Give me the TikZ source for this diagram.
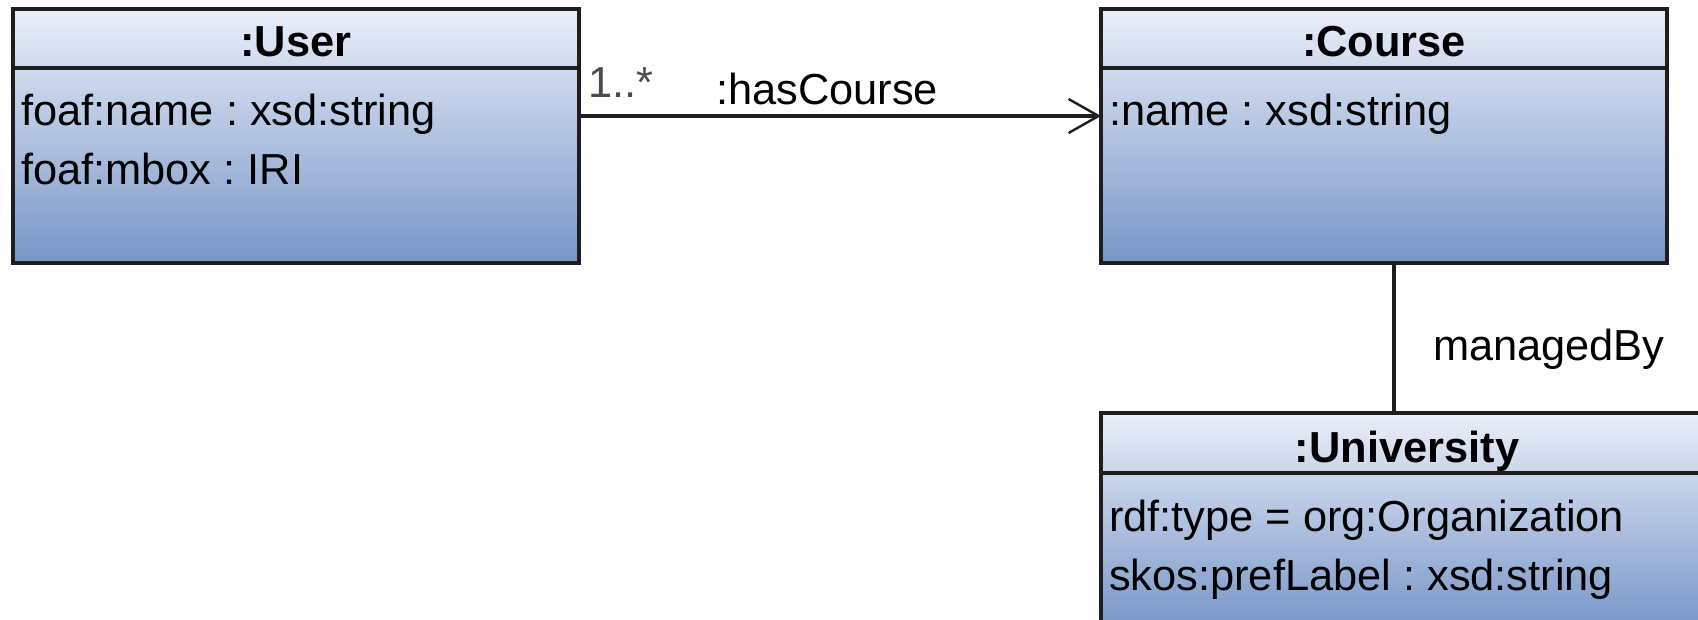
\documentclass[tikz,border=0pt]{standalone}
\usepackage{fontspec}
\setmainfont{Liberation Sans}
\usetikzlibrary{arrows.meta}
\definecolor{topc}{RGB}{234,239,249}
\definecolor{botc}{RGB}{120,150,200}
\definecolor{edgec}{RGB}{30,30,30}
\frenchspacing
\begin{document}
\begin{tikzpicture}[x=0.5pt,y=-0.5pt,
  every node/.style={font=\fontsize{21.7pt}{25pt}\selectfont\frenchspacing, inner sep=0pt, outer sep=0pt},
  classbox/.style={draw=edgec, line width=2pt, top color=topc, bottom color=botc, rectangle, inner sep=0pt, outer sep=0pt},
  hdr/.style={anchor=base, font=\fontsize{21.7pt}{25pt}\selectfont\bfseries},
  attr/.style={anchor=base west},
  conn/.style={draw=edgec, line width=2pt},
]
\useasboundingbox (0,0) rectangle (1698,620);
\clip (0,0) rectangle (1698,620);

% class boxes
\node[classbox, minimum width=283pt, minimum height=127.15pt] (user) at (296,135.85) {};
\node[classbox, minimum width=283pt, minimum height=127.15pt] (course) at (1384,135.85) {};
\node[classbox, minimum width=307pt, minimum height=107.5pt] (univ) at (1408,520.5) {};

% header dividers
\draw[conn] ([yshift=-29.65pt]user.north west) -- ([yshift=-29.65pt]user.north east);
\draw[conn] ([yshift=-29.65pt]course.north west) -- ([yshift=-29.65pt]course.north east);
\draw[conn] ([yshift=-30pt]univ.north west) -- ([yshift=-30pt]univ.north east);

% texts
\node[hdr] (userH) at (296,57) {:User};
\node[attr] (u1) at (21,126) {foaf:name : xsd:string};
\node[attr] (u2) at (21,185) {foaf:mbox : IRI};
\node[hdr] (courseH) at (1384,57) {:Course};
\node[attr] (c1) at (1109,126) {:name : xsd:string};
\node[hdr] (univH) at (1407,462) {:University};
\node[attr] (v1) at (1109,531) {rdf:type = org:Organization};
\node[attr] (v2) at (1109,590) {skos:prefLabel : xsd:string};

% connectors
\coordinate (ay) at (0,116);
\coordinate (vx) at (1394,0);
\draw[conn, -{Straight Barb[length=15pt,width=17pt,line width=1.2pt]}] (user.east |- ay) -- (course.west |- ay);
\draw[conn] (course.south -| vx) -- (univ.north -| vx);

% labels
\node[anchor=base west, text=black!70] (mult) at (588,98) {1..*};
\node[anchor=base west] (lblHas) at (716,105) {:hasCourse};
\node[anchor=base west] (lblMan) at (1433,360) {managedBy};
\end{tikzpicture}
\end{document}
